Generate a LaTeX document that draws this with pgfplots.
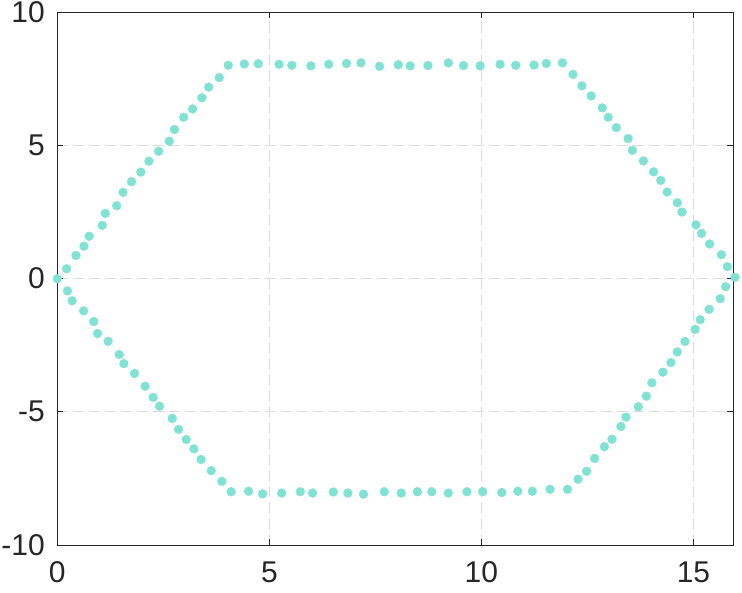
\documentclass[border=0pt]{standalone}
\usepackage{pgfplots}
\pgfplotsset{compat=1.18}
\usepackage{fontspec}
\setmainfont{Liberation Sans}
\definecolor{dotc}{RGB}{128,226,210}
\definecolor{axc}{RGB}{38,38,38}
\definecolor{gridc}{RGB}{220,220,220}
\begin{document}
\begin{tikzpicture}
\begin{axis}[
  scale only axis,
  width=676pt, height=532.7pt,
  xmin=0, xmax=15.94, ymin=-10, ymax=10,
  xtick={0,5,10,15}, ytick={-10,-5,0,5,10},
  tick align=inside,
  major tick length=6pt,
  axis line style={axc, line width=0.8pt},
  tick style={axc, line width=0.8pt},
  every tick label/.append style={font=\fontsize{30}{34}\selectfont, text=axc},
  /pgf/number format/assume math mode=true,
  xticklabel style={yshift=-13pt},
  yticklabel style={xshift=-9pt},
  grid=major,
  major grid style={gridc, line width=0.7pt, dash pattern=on 11pt off 5pt},
  clip=false,
]
\addplot[only marks, dotc, mark=*, mark size=4.4pt, mark options={draw=none, fill=dotc}] coordinates {
(0,0) (0.22,0.37) (0.44,0.87) (0.63,1.22) (0.75,1.59) (1.06,2.0) (1.13,2.45)
(1.40,2.74) (1.55,3.24) (1.75,3.64) (1.97,4.0) (2.16,4.41) (2.39,4.78)
(2.64,5.16) (2.76,5.60) (2.98,6.06) (3.19,6.37) (3.41,6.79) (3.57,7.19)
(3.82,7.55) (4.03,8.01) (4.41,8.06) (4.74,8.07) (5.23,8.05) (5.53,8.01)
(5.98,7.99) (6.40,8.05) (6.82,8.08) (7.16,8.10) (7.60,7.97) (8.04,8.03)
(8.32,7.99) (8.74,8.0) (9.22,8.10) (9.58,8.0) (9.97,7.99) (10.44,8.05)
(10.81,8.01) (11.24,8.02) (11.53,8.08) (11.91,8.10) (12.16,7.67) (12.37,7.24)
(12.59,6.86) (12.85,6.41) (12.99,6.06) (13.18,5.67) (13.46,5.26) (13.56,4.82)
(13.82,4.42) (14.06,4.01) (14.23,3.69) (14.38,3.25) (14.62,2.85) (14.73,2.50)
(15.06,2.02) (15.19,1.70) (15.38,1.30) (15.66,0.90) (15.80,0.45) (15.98,0.05)
(15.76,-0.30) (15.63,-0.75) (15.37,-1.15) (15.16,-1.54) (15.04,-1.90)
(14.80,-2.36) (14.62,-2.75) (14.47,-3.15) (14.28,-3.51) (14.02,-3.91)
(13.89,-4.41) (13.70,-4.81) (13.41,-5.20) (13.29,-5.55) (13.08,-6.03)
(12.90,-6.31) (12.67,-6.75) (12.48,-7.23) (12.28,-7.53) (12.03,-7.91)
(11.62,-7.91) (11.20,-7.98) (10.86,-7.98) (10.48,-8.03) (10.03,-8.0)
(9.66,-8.0) (9.22,-8.05) (8.83,-8.0) (8.49,-8.0) (8.11,-8.05) (7.71,-8.0)
(7.22,-8.09) (6.85,-8.05) (6.51,-8.01) (6.02,-8.05) (5.73,-8.0) (5.29,-8.05)
(4.84,-8.08) (4.51,-7.98) (4.10,-8.0) (3.88,-7.61) (3.63,-7.21) (3.39,-6.79)
(3.22,-6.39) (3.04,-6.04) (2.86,-5.66) (2.71,-5.25) (2.41,-4.79) (2.26,-4.46)
(2.07,-4.04) (1.82,-3.56) (1.57,-3.19) (1.46,-2.85) (1.20,-2.35) (0.95,-2.06)
(0.86,-1.61) (0.62,-1.21) (0.35,-0.83) (0.24,-0.46)
};
\end{axis}
\pgfresetboundingbox
\path (current axis.south west) ++(-57.3pt,-47pt) coordinate (bbA);
\path (current axis.north east) ++(8.7pt,12.3pt) coordinate (bbB);
\useasboundingbox (bbA) rectangle (bbB);
\end{tikzpicture}
\end{document}
